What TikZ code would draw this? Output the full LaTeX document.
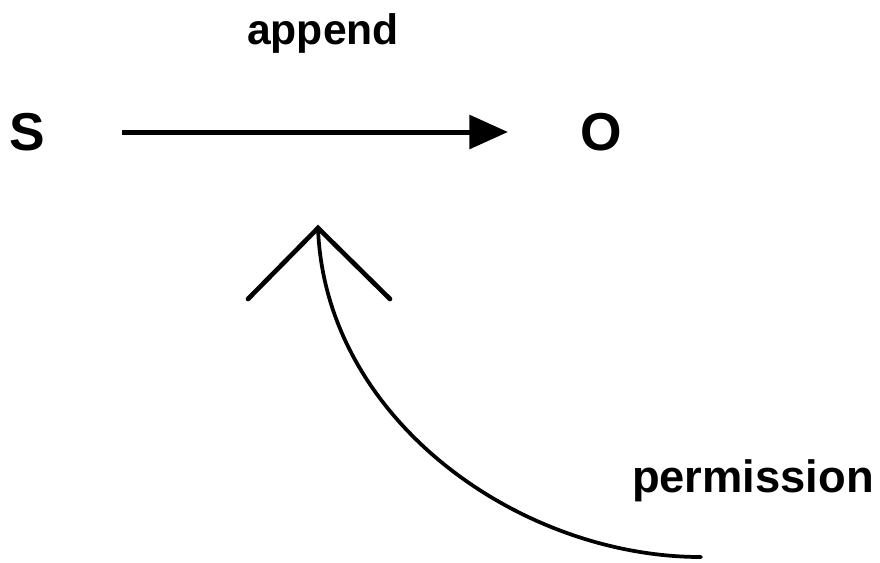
\documentclass[tikz,border=0pt]{standalone}
\usepackage{fontspec}
\setmainfont{Liberation Sans}
\usetikzlibrary{arrows.meta}
\tikzset{
  big/.style={font=\bfseries\fontsize{40}{44}\selectfont, inner sep=0pt},
  lbl/.style={font=\bfseries\fontsize{32}{36}\selectfont, inner sep=0pt, anchor=base},
  mainarrow/.style={line width=3.75pt, -{Triangle[length=29pt,width=25pt]}},
  chev/.style={line width=3.5pt, line cap=round, line join=miter},
  arc/.style={line width=2.8pt, line cap=round}
}
\begin{document}
\begin{tikzpicture}[x=0.75pt,y=-0.75pt]
\useasboundingbox (0,0) rectangle (880,562);
\node[big] (S) at (27,132) {S};
\node[big] (O) at (601,132) {O};
\node[lbl] (append) at (323,44) {append};
\node[lbl, font=\bfseries\fontsize{34}{38}\selectfont] (perm) at (753,492) {permission};
\draw[mainarrow, shorten <=58pt, shorten >=54pt] (S.east) -- (O.west);
\coordinate (apex) at (318,228);
\coordinate (cl) at (248,299);
\coordinate (cr) at (390,299);
\coordinate (cend) at (701,557);
\draw[chev] (cl) -- (apex) -- (cr);
\draw[arc] (apex) .. controls (325,420) and (520,557) .. (cend);
\end{tikzpicture}
\end{document}
